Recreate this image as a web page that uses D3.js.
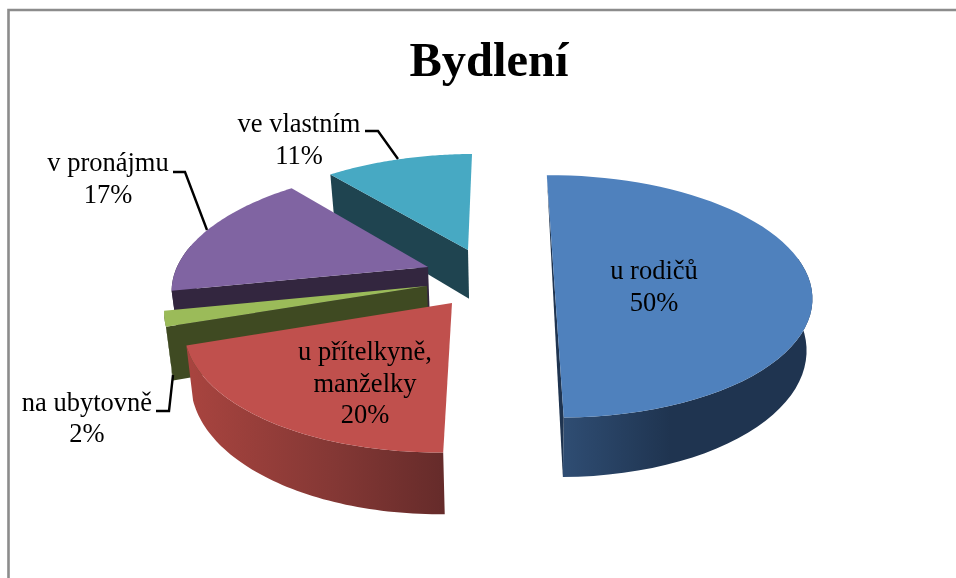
<!DOCTYPE html>
<html lang="cs">
<head>
<meta charset="utf-8">
<script src="https://cdnjs.cloudflare.com/ajax/libs/d3/7.8.5/d3.min.js"></script>
<style>
html,body{margin:0;padding:0;background:#fff;overflow:hidden}
svg{display:block;filter:blur(0.45px)}
text{font-family:"Liberation Serif",serif;fill:#000;text-anchor:middle}
</style>
</head>
<body>
<svg id="c" width="956" height="578" viewBox="0 0 956 578"></svg>
<script>
const title = "Bydlení";
const categories = ["u rodičů", "u přítelkyně, manželky", "na ubytovně", "v pronájmu", "ve vlastním"];
const values = [50, 20, 2, 17, 11];

// Style & layout, per slice
const topColors = ["#4f81bd", "#c0504d", "#9bbb59", "#8064a2", "#47a9c3"];
const wallStops = [["#2f4d73", "#1f3450", "#1f3450"], ["#a8443f", "#853835", "#652b2a"], ["#3f4a22", "#3f4a22", "#3f4a22"], ["#33263f", "#33263f", "#33263f"], ["#1f4450", "#1f4450", "#1f4450"]];
const wallSpan = [[563, 670, 810], [190, 330, 446], [160, 170, 430], [170, 300, 430], [330, 400, 470]];
const apexes = [[554, 278], [452, 303], [427, 286], [428, 267], [468, 250]];
const radialFace = ["diameter", null, "start", "start", "start"];
const drawOrder = [4, 3, 2, 1, 0];
const labelLines = [["u rodičů", "50%"], ["u přítelkyně,", "manželky", "20%"], ["na ubytovně", "2%"], ["v pronájmu", "17%"], ["ve vlastním", "11%"]];
const labelPos = [[654, 279], [365, 360], [87, 410.5], [108, 171], [299, 132]];
const leaderLines = [null, null,
  [[156, 411], [169, 411], [173, 375]],
  [[173, 172], [185, 172], [207, 230]],
  [[365, 131], [378, 131], [398, 159]]];

// Perspective projection of the pie's plane
const P = {cx: 520, cy: 270, A: 252, B: 116, k: 0.15, H: 50, f: 0.98};
const project = (X, Y, low) => {
  const s = 1 / (1 - P.k * Y);
  const x = P.A * X * s;
  const y = P.B * Y * s;
  return low ? [P.cx + x * P.f, P.cy + y + P.H * s] : [P.cx + x, P.cy + y];
};
const unproject = ([sx, sy]) => {
  const d = sy - P.cy;
  const Y = d / (P.B + P.k * d);
  const s = 1 / (1 - P.k * Y);
  return [(sx - P.cx) / (P.A * s), Y];
};

const rotation = -0.7 * Math.PI / 180;
const pie = d3.pie().sort(null).startAngle(rotation).endAngle(rotation + 2 * Math.PI);
const arcs = pie(values);

const svg = d3.select("#c");
const defs = svg.append("defs");
const line = d3.line();

// chart-area border (top and left edges only in view)
svg.append("path").attr("d", line([[8.5, 578], [8.5, 10], [956, 10]]))
  .attr("fill", "none").attr("stroke", "#8c8c8c").attr("stroke-width", 2.6);

svg.append("text").attr("x", 489).attr("y", 76).attr("font-size", 48.5).attr("font-weight", 700).text(title);

drawOrder.forEach(i => {
  const a = arcs[i];
  const [ox, oy] = unproject(apexes[i]);
  const pt = (t, low) => project(ox + Math.sin(t), oy - Math.cos(t), low);
  const centre = low => project(ox, oy, low);
  const ts = d3.range(0, 61).map(n => a.startAngle + (a.endAngle - a.startAngle) * n / 60);

  const gid = "wall" + i;
  const grad = defs.append("linearGradient").attr("id", gid).attr("gradientUnits", "userSpaceOnUse")
    .attr("x1", wallSpan[i][0]).attr("x2", wallSpan[i][2]).attr("y1", 0).attr("y2", 0);
  wallStops[i].forEach((c, j) => grad.append("stop")
    .attr("offset", (wallSpan[i][j] - wallSpan[i][0]) / (wallSpan[i][2] - wallSpan[i][0]))
    .attr("stop-color", c));

  const g = svg.append("g").attr("class", "slice");
  // outer wall: only the part of the rim that faces the viewer
  const front = ts.filter(t => Math.cos(t) < 0.2);
  if (front.length > 1) {
    const outer = front.map(t => pt(t, false)).concat(front.slice().reverse().map(t => pt(t, true)));
    g.append("path").attr("d", line(outer) + "Z").attr("fill", `url(#${gid})`);
  }
  // radial face
  if (radialFace[i] === "start") {
    const q = [centre(false), pt(a.startAngle, false), pt(a.startAngle, true), centre(true)];
    g.append("path").attr("d", line(q) + "Z").attr("fill", wallStops[i][1]);
  } else if (radialFace[i] === "diameter") {
    const q = [pt(a.startAngle, false), pt(a.endAngle, false), pt(a.endAngle, true)];
    g.append("path").attr("d", line(q) + "Z").attr("fill", wallStops[i][1]);
  }
  // top face
  const top = [centre(false)].concat(ts.map(t => pt(t, false)));
  g.append("path").attr("d", line(top) + "Z").attr("fill", topColors[i]);
});

// leader lines
leaderLines.forEach(l => {
  if (l) svg.append("path").attr("d", line(l)).attr("fill", "none").attr("stroke", "#000").attr("stroke-width", 2.4);
});

// labels
labelLines.forEach((lines, i) => {
  const t = svg.append("text").attr("font-size", 26.5);
  lines.forEach((s, j) => t.append("tspan").attr("x", labelPos[i][0]).attr("y", labelPos[i][1] + j * 31.5).text(s));
});
</script>
</body>
</html>
